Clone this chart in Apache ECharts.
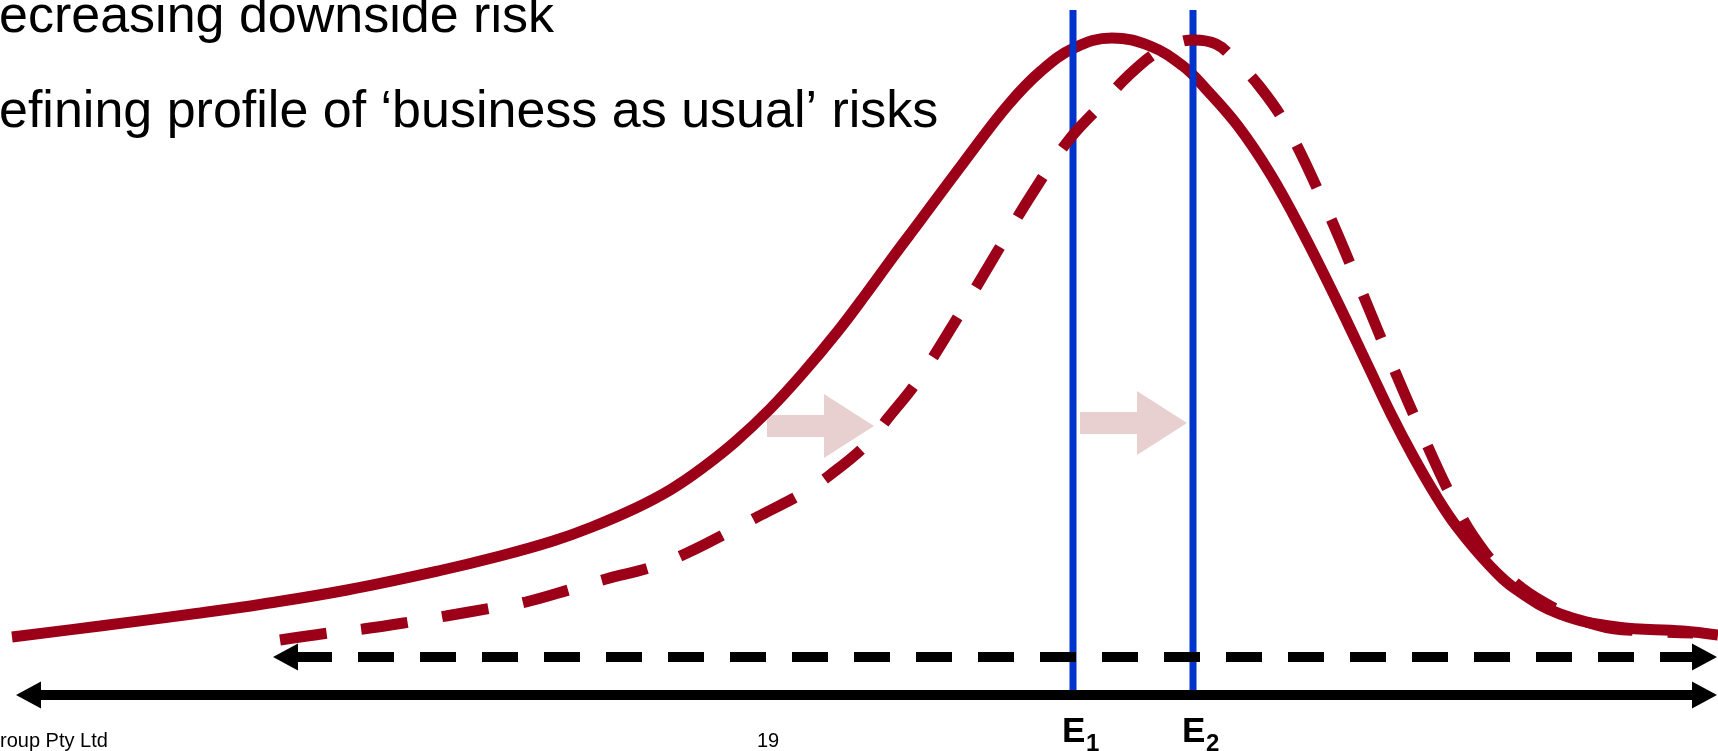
<!DOCTYPE html>
<html><head><meta charset="utf-8">
<script src="https://cdn.jsdelivr.net/npm/echarts@6.0.0/dist/echarts.min.js"></script>
<style>html,body{margin:0;padding:0;background:#fff;}#c{width:1718px;height:751px;}</style>
</head><body><div id="c"></div>
<script>
// ---- text ----
const headerLines = ['ecreasing downside risk', 'efining profile of \u2018business as usual\u2019 risks'];
const footerLeft = 'roup Pty Ltd';
const pageNumber = '19';

// ---- risk profiles: [outcome, density] ----
const currentProfile = [
  [12,58],[100,69],[200,82],[263,91],[347,105],[438,124],[500,139],[553,154],[592,168],[636,187],
  [670,205],[701,226],[735,253],[770,286],[803,322],[838,364],[866,401],[893,438],[920,474],
  [964,533],[1008,590],[1041,624],[1074,647],[1112,657],[1150,649],[1183,629],[1205,607],[1238,569],
  [1271,520],[1304,460],[1337,394],[1370,325],[1391,281],[1413,239],[1435,201],[1457,168],[1490,129],
  [1517,105],[1560,81],[1617,68],[1683,64],[1718,60]
];
const improvedProfile = [
  [280,55],[328,62],[363,66],[410,73],[446,79],[492,87],[526,93],[572,106],[606,116],[652,128],
  [687,142],[723,160],[761,180],[805,203],[830,220],[867,251],[888,277],[918,315],[964,388],[997,443],
  [1030,498],[1068,554],[1100,589],[1128,619],[1157,643],[1180,653],[1194,655],[1216,651],[1233,637],
  [1260,608],[1287,568],[1326,487],[1359,410],[1391,333],[1424,257],[1452,197],[1474,158],[1501,125],
  [1545,92],[1600,69],[1644,64],[1693,62]
];

// ---- expected values E1, E2 ----
const expectedNames = ['1', '2'];
const expectedValues = [1073, 1193];
const expectedTop = 685;

// ---- outcome range arrows: [start, end, level, dashed] ----
const outcomeRanges = [[16, 1717, 0, 0], [273, 1717, 38, 1]];

// ---- shift arrows: [from, to, level] ----
const shiftArrows = [[767, 874, 269], [1080, 1187, 272]];

const RED = '#9B0018', BLUE = '#0033CC', PINK = '#E8D0D0';
const FONT = '"Liberation Sans", Arial, Helvetica, sans-serif';

const chart = echarts.init(document.getElementById('c'));
chart.setOption({
  animation: false,
  grid: {left: 0, right: 0, top: 0, bottom: 0},
  xAxis: {type: 'value', min: 0, max: 1718, show: false},
  yAxis: {type: 'value', min: -56, max: 695, show: false},
  graphic: [
    {type: 'text', x: -1, y: 18, z: 10, style: {text: headerLines[0], font: '52px ' + FONT, fill: '#000', verticalAlign: 'middle'}},
    {type: 'text', x: -1, y: 113, z: 10, style: {text: headerLines[1], font: '52px ' + FONT, fill: '#000', verticalAlign: 'middle'}},
    {type: 'text', x: 0, y: 741, z: 10, style: {text: footerLeft, font: '20px ' + FONT, fill: '#000', verticalAlign: 'middle'}},
    {type: 'text', x: 757, y: 741, z: 10, style: {text: pageNumber, font: '20px ' + FONT, fill: '#000', verticalAlign: 'middle'}}
  ],
  series: [
    {
      type: 'custom', name: 'shift', z: 1, silent: true,
      data: shiftArrows,
      renderItem: function (params, api) {
        const s = api.coord([api.value(0), api.value(2)]);
        const t = api.coord([api.value(1), api.value(2)]);
        const y = t[1], hl = 50, bh = 11, hh = 32;
        return {type: 'polygon', shape: {points: [
          [s[0], y - bh], [t[0] - hl, y - bh], [t[0] - hl, y - hh], [t[0], y],
          [t[0] - hl, y + hh], [t[0] - hl, y + bh], [s[0], y + bh]]},
          style: {fill: PINK}};
      }
    },
    {
      type: 'line', name: 'current', z: 2, silent: true, data: currentProfile,
      symbol: 'none', smooth: 0.4,
      lineStyle: {color: RED, width: 11}
    },
    {
      type: 'custom', name: 'expected', z: 3, silent: true,
      data: expectedValues.map((v, i) => [v, expectedTop, i]),
      renderItem: function (params, api) {
        const top = api.coord([api.value(0), api.value(1)]);
        const bot = api.coord([api.value(0), 0]);
        const x = top[0];
        const idx = api.value(2);
        return {type: 'group', children: [
          {type: 'line', shape: {x1: x, y1: top[1], x2: x, y2: bot[1]}, style: {stroke: BLUE, lineWidth: 7}},
          {type: 'text', x: x - 11, y: bot[1] + 37, style: {text: 'E', font: 'bold 35px ' + FONT, fill: '#000', verticalAlign: 'middle'}},
          {type: 'text', x: x + 13, y: bot[1] + 49, style: {text: expectedNames[idx], font: 'bold 24px ' + FONT, fill: '#000', verticalAlign: 'middle'}}
        ]};
      }
    },
    {
      type: 'line', name: 'improved', z: 4, silent: true, data: improvedProfile,
      symbol: 'none', smooth: 0.4,
      lineStyle: {color: RED, width: 11, type: [47, 35]}
    },
    {
      type: 'custom', name: 'range', z: 5, silent: true,
      data: outcomeRanges,
      renderItem: function (params, api) {
        const a = api.coord([api.value(0), api.value(2)]);
        const b = api.coord([api.value(1), api.value(2)]);
        const dashed = api.value(3) === 1;
        const y = a[1], hl = 25, hh = 13.5;
        return {type: 'group', children: [
          {type: 'line', shape: {x1: a[0] + hl - 2, y1: y, x2: b[0] - hl + 2, y2: y},
            style: {stroke: '#000', lineWidth: 10, lineDash: dashed ? [36, 26] : null}},
          {type: 'polygon', shape: {points: [[a[0], y], [a[0] + hl, y - hh], [a[0] + hl, y + hh]]}, style: {fill: '#000'}},
          {type: 'polygon', shape: {points: [[b[0], y], [b[0] - hl, y - hh], [b[0] - hl, y + hh]]}, style: {fill: '#000'}}
        ]};
      }
    }
  ]
});
</script>
</body></html>
